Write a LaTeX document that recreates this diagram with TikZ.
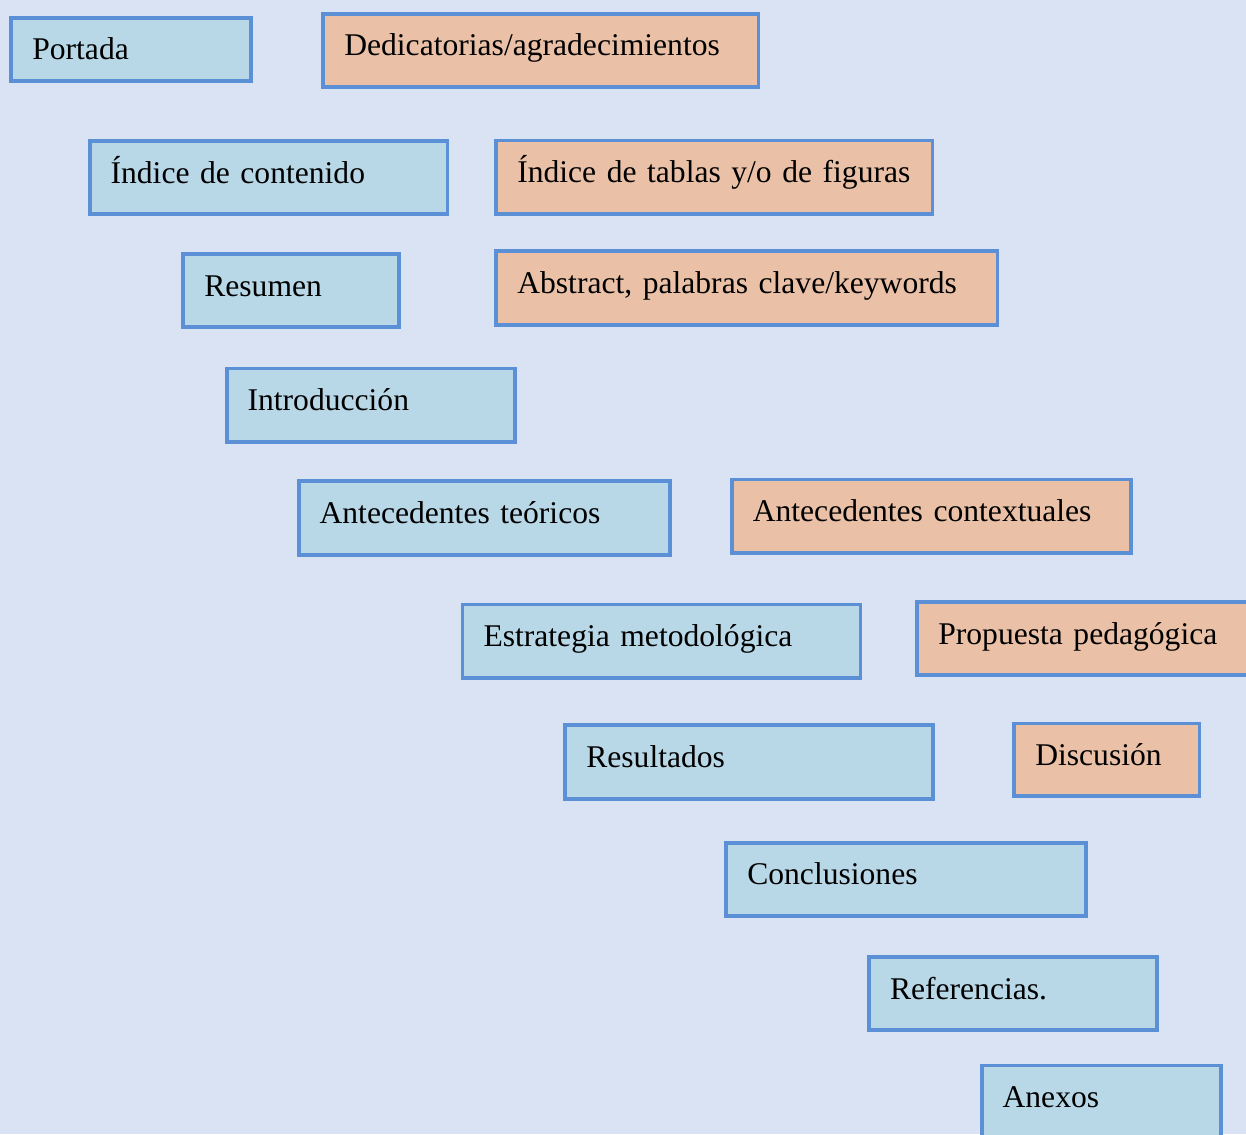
\documentclass[tikz,border=0pt]{standalone}
\usepackage{fontspec}
\setmainfont{Liberation Serif}
\definecolor{bgc}{HTML}{DAE3F3}
\definecolor{bluefill}{HTML}{B8D8E8}
\definecolor{peachfill}{HTML}{EAC1A7}
\definecolor{edgeblue}{HTML}{5B8FD6}
\tikzset{
  tbox/.style={draw=edgeblue, line width=3.8pt, rectangle, inner xsep=21pt, inner ysep=0pt,
    align=left, text height=42.1pt, font=\fontsize{31.6}{36}\selectfont, text=black}
}
\newcommand\mkbox[7]{%
  \pgfmathsetmacro\mybw{#4-#2-3.8}%
  \pgfmathsetmacro\mybh{#5-#3-3.8}%
  \pgfmathsetmacro\mytw{\mybw-42}%
  \pgfmathsetmacro\mytd{\mybh-42.1}%
  \pgfmathsetmacro\myx{#2+1.9-1.5}%
  \pgfmathsetmacro\myy{-#3-1.9+1}%
  \node[tbox, fill=#6, minimum width=\mybw pt, minimum height=\mybh pt,
    text width=\mytw pt, text depth=\mytd pt, anchor=north west]
    (#1) at (\myx pt,\myy pt) {#7};%
}
\begin{document}
\begin{tikzpicture}
\useasboundingbox (0,0) rectangle (1246pt,-1134pt);
\clip (0,0) rectangle (1246pt,-1134pt);
\fill[bgc] (0,0) rectangle (1246pt,-1134pt);
\mkbox{portada}{9}{15}{252.3}{82.3}{bluefill}{Portada}
\mkbox{dedic}{321}{11}{760}{88.3}{peachfill}{Dedicatorias/agradecimientos}
\mkbox{indcont}{87.3}{138.3}{449}{215.3}{bluefill}{Índice de contenido}
\mkbox{indtab}{494}{137.7}{934}{215.3}{peachfill}{Índice de tablas y/o de figuras}
\mkbox{resumen}{181}{251.3}{400.7}{328.3}{bluefill}{Resumen}
\mkbox{abstract}{494}{248.3}{999}{325.7}{peachfill}{Abstract, palabras clave/keywords}
\mkbox{intro}{224.3}{365.7}{516.7}{442.7}{bluefill}{Introducción}
\mkbox{anteo}{296.3}{478.3}{671.4}{555.7}{bluefill}{Antecedentes teóricos}
\mkbox{ancont}{729.5}{476.7}{1132.5}{553.7}{peachfill}{Antecedentes contextuales}
\mkbox{estrat}{460.2}{601.7}{862}{679}{bluefill}{Estrategia metodológica}
\mkbox{propuesta}{915}{599.3}{1262}{676.3}{peachfill}{Propuesta pedagógica}
\mkbox{result}{563}{722.3}{934.2}{799.7}{bluefill}{Resultados}
\mkbox{discus}{1012}{720.7}{1201}{797.3}{peachfill}{Discusión}
\mkbox{concl}{724}{840}{1087.7}{917}{bluefill}{Conclusiones}
\mkbox{refs}{866.7}{954.3}{1158.3}{1031.3}{bluefill}{Referencias.}
\mkbox{anexos}{979.3}{1062.7}{1222.7}{1142}{bluefill}{Anexos}
\end{tikzpicture}
\end{document}
